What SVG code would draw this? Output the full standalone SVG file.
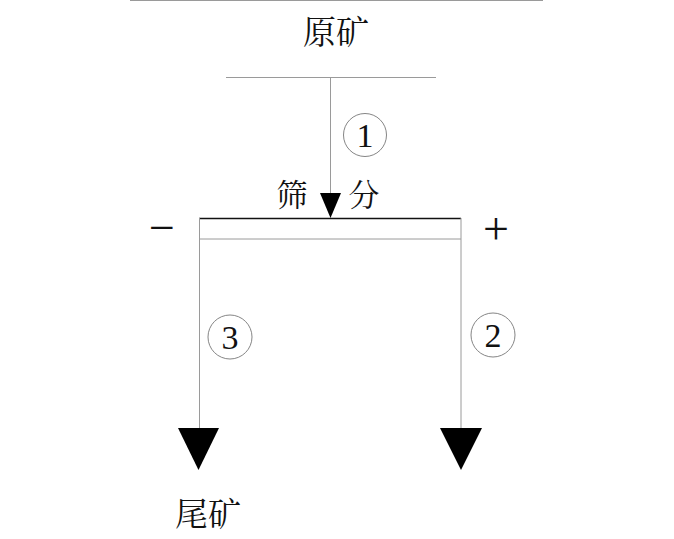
<svg xmlns="http://www.w3.org/2000/svg" width="674" height="539" viewBox="0 0 674 539">
<style>
.ln{stroke:#9a9a9a;stroke-width:1;fill:none}
.dk{stroke:#111;stroke-width:1.3;fill:none}
.cir{stroke:#777;stroke-width:0.9;fill:none}
.cj{font-family:"Noto Serif CJK SC","Noto Sans CJK SC",serif;fill:#111}
.num{font-family:"Liberation Serif",serif;font-size:34px;fill:#111;text-anchor:middle}
.sg{font-family:"Liberation Serif",serif;font-size:46px;fill:#111;text-anchor:middle}
.arr{fill:#000}
</style>
<rect width="674" height="539" fill="#fff"/>
<line class="ln" x1="130" y1="0.5" x2="543" y2="0.5"/>
<g id="feed">
<text class="cj" x="336" y="44" font-size="33" text-anchor="middle">原矿</text>
<line class="ln" x1="226" y1="77.5" x2="436" y2="77.5"/>
</g>
<g id="screen">
<text class="cj" x="292" y="206" font-size="31" text-anchor="middle">筛</text>
<text class="cj" x="364" y="206" font-size="31" text-anchor="middle">分</text>
<line class="dk" x1="199" y1="218.5" x2="461" y2="218.5"/>
<line class="ln" x1="199" y1="239" x2="461" y2="239"/>
<text class="sg" x="162" y="243">−</text>
<text class="sg" x="496" y="244">+</text>
</g>
<g id="tailings">
<text class="cj" x="208" y="526" font-size="33" text-anchor="middle">尾矿</text>
</g>
<g id="connectors">
<line class="ln" x1="330.5" y1="77" x2="330.5" y2="195"/>
<polygon class="arr" points="320,193 341,193 330.5,218"/>
<circle class="cir" cx="365" cy="135" r="21.5"/>
<text class="num" x="365" y="147">1</text>
<line class="ln" x1="199.5" y1="218" x2="199.5" y2="430"/>
<polygon class="arr" points="178,428 219,428 198.5,470"/>
<circle class="cir" cx="230" cy="337" r="22"/>
<text class="num" x="230" y="349">3</text>
<line class="ln" x1="461" y1="218" x2="461" y2="430"/>
<polygon class="arr" points="440,428 482,428 461,470"/>
<circle class="cir" cx="493" cy="335" r="22"/>
<text class="num" x="493" y="347">2</text>
</g>
</svg>
